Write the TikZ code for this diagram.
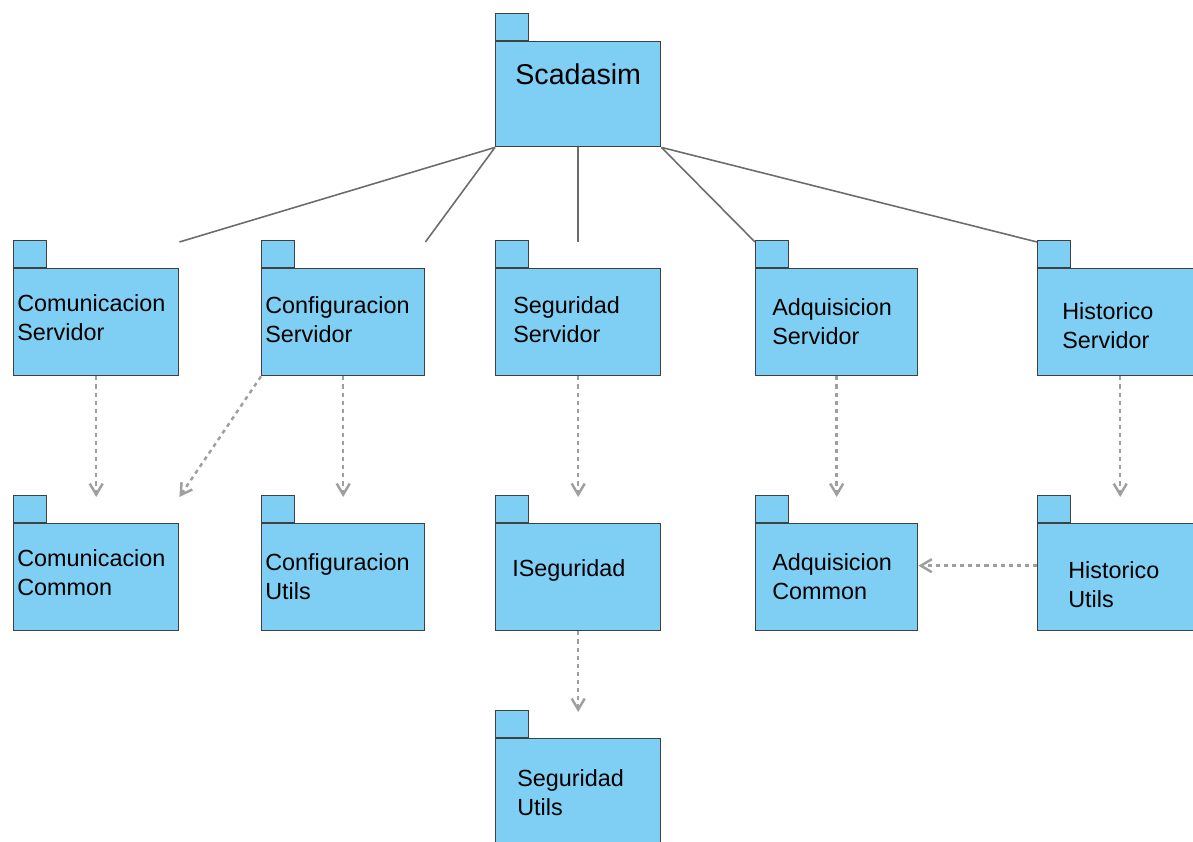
\documentclass[tikz,border=0pt]{standalone}
\usepackage{fontspec}
\setmainfont{Liberation Sans}
\usetikzlibrary{arrows.meta,positioning}

\definecolor{pkgfill}{RGB}{127,207,244}
\definecolor{pkgline}{RGB}{64,64,64}

\tikzset{
  PkgBody/.style = { rectangle, draw = pkgline, fill = pkgfill, line width = 0.8pt,
                     minimum width = 3.3cm, minimum height = 2.14cm, inner sep = 0pt },
  PkgTab/.style  = { rectangle, draw = pkgline, fill = pkgfill, line width = 0.8pt,
                     minimum width = 0.66cm, minimum height = 0.54cm, inner sep = 0pt },
  PkgText/.style = { align = left, inner sep = 0pt,
                     font = \fontsize{13.3}{16.5}\selectfont },
  Contiene/.style = { draw = gray!85!black, line width = 0.9pt },
  Depende/.style  = { draw = gray!75, line width = 1.4pt,
                      dash pattern = on 2.3pt off 2.3pt,
                      -{Straight Barb[length=2.2mm,width=2.6mm]} }
}

% paquete UML: [opciones], nombre, x, y (esquina sup. izq.), desplazamiento del texto, texto
\newcommand{\Paquete}[7][]{%
  \node[PkgBody, anchor = north west, #1] (#2) at (#3,#4) {};
  \node[PkgTab, anchor = south west] (#2-tab) at (#2.north west) {};
  \node[PkgText, anchor = west] (#2-txt) at ([xshift=#5cm,yshift=-#6cm]#2.north west) {#7};
  \coordinate (#2-top) at ([yshift=0.52cm]#2.north);
}

\begin{document}
\begin{tikzpicture}
  \useasboundingbox (0,0) rectangle (23.86,16.84);

  % raiz
  \node[PkgBody, anchor = north west, minimum height = 2.1cm] (Scadasim) at (9.9,16.02) {};
  \node[PkgTab, anchor = south west] (Scadasim-tab) at (Scadasim.north west) {};
  \node[font = \fontsize{16.3}{20}\selectfont, inner sep = 0pt]
    (Scadasim-txt) at ([yshift=-0.66cm]Scadasim.north) {Scadasim};

  % servidores
  \Paquete{ComSrv}{0.26}{11.48}{0.08}{0.99}{Comunicacion\\Servidor}
  \Paquete[minimum width = 3.26cm]{CfgSrv}{5.22}{11.48}{0.08}{1.03}{Configuracion\\Servidor}
  \Paquete{SegSrv}{9.9}{11.48}{0.36}{1.03}{Seguridad\\Servidor}
  \Paquete[minimum width = 3.24cm]{AdqSrv}{15.1}{11.48}{0.34}{1.07}{Adquisicion\\Servidor}
  \Paquete{HisSrv}{20.74}{11.48}{0.5}{1.15}{Historico\\Servidor}

  % comunes y utilidades
  \Paquete{ComCom}{0.26}{6.38}{0.08}{0.99}{Comunicacion\\Common}
  \Paquete[minimum width = 3.26cm]{CfgUtl}{5.22}{6.38}{0.08}{1.07}{Configuracion\\Utils}
  \Paquete{ISeg}{9.9}{6.38}{0.34}{0.94}{ISeguridad}
  \Paquete[minimum width = 3.24cm]{AdqCom}{15.1}{6.38}{0.34}{1.08}{Adquisicion\\Common}
  \Paquete{HisUtl}{20.74}{6.38}{0.62}{1.23}{Historico\\Utils}
  \Paquete{SegUtl}{9.9}{2.08}{0.44}{1.09}{Seguridad\\Utils}

  \coordinate (ComSrv-end) at ([yshift=0.52cm]ComSrv.north east);
  \coordinate (CfgSrv-end) at ([yshift=0.52cm]CfgSrv.north east);
  \coordinate (AdqSrv-end) at ([yshift=0.52cm]AdqSrv.north west);
  \coordinate (HisSrv-end) at ([yshift=0.52cm]HisSrv.north west);
  \coordinate (ComCom-end) at ([yshift=0.52cm]ComCom.north east);

  % contencion
  \draw[Contiene] (Scadasim.south west) -- (ComSrv-end);
  \draw[Contiene] (Scadasim.south west) -- (CfgSrv-end);
  \draw[Contiene] (Scadasim.south) -- (SegSrv-top);
  \draw[Contiene] (Scadasim.south east) -- (AdqSrv-end);
  \draw[Contiene] (Scadasim.south east) -- (HisSrv-end);

  % dependencias
  \draw[Depende] (ComSrv.south) -- (ComCom-top);
  \draw[Depende] (CfgSrv.south west) -- (ComCom-end);
  \draw[Depende] (CfgSrv.south) -- (CfgUtl-top);
  \draw[Depende] (SegSrv.south) -- (ISeg-top);
  \draw[Depende] (ISeg.south) -- (SegUtl-top);
  \draw[Depende] (AdqSrv.south) -- (AdqCom-top);
  \draw[Depende] (HisSrv.south) -- (HisUtl-top);
  \draw[Depende] ([yshift=0.23cm]HisUtl.west) -- ([yshift=0.23cm]AdqCom.east);
\end{tikzpicture}
\end{document}
